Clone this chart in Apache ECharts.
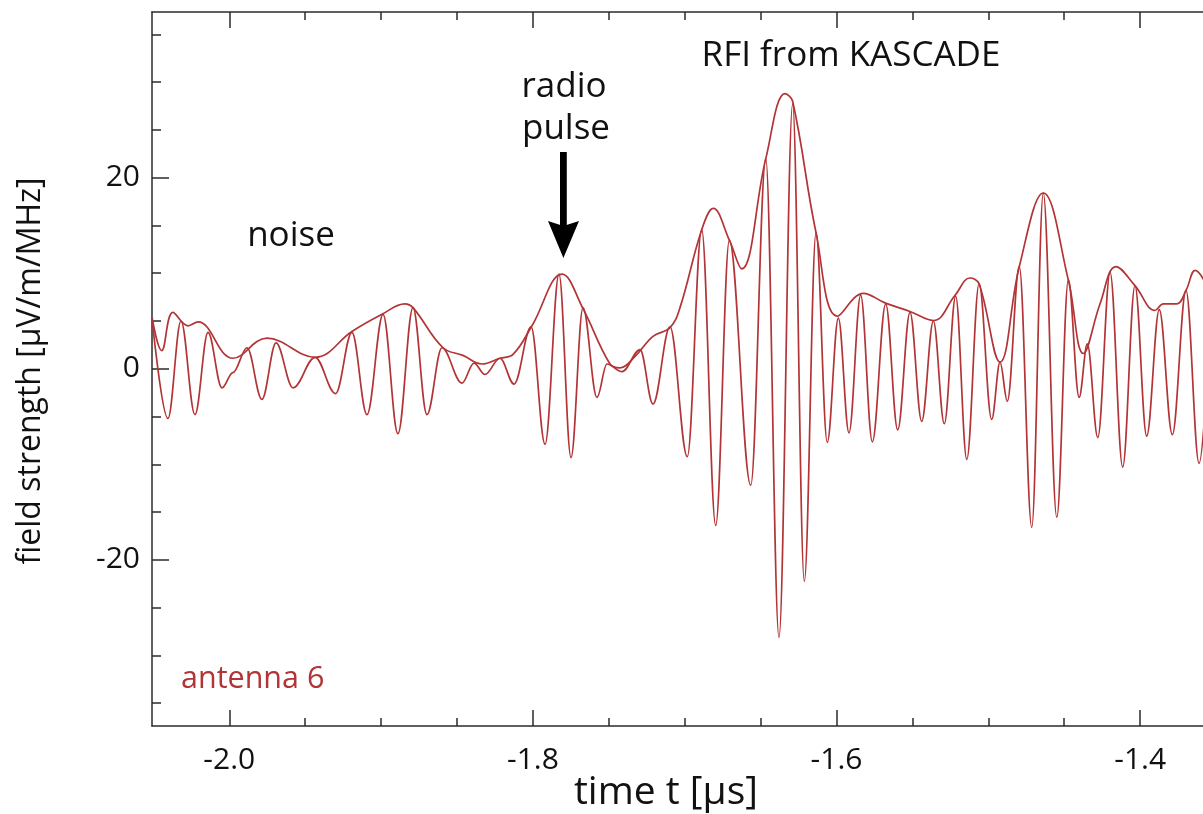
<!DOCTYPE html>
<html>
<head>
<meta charset="utf-8">
<title>antenna 6</title>
<script src="https://cdn.jsdelivr.net/npm/echarts@6/dist/echarts.min.js"></script>
<style>
    html, body { margin: 0; padding: 0; background: #ffffff; }
    #chart { width: 1203px; height: 814px; }
</style>
</head>
<body>
<div id="chart"></div>
<script>
// ================* FIELD STRENGTH, ANTENNA 6 *
// time t in microseconds, field strength in uV/m/MHz

// --- band-filtered signal: its peaks and troughs
const signalTime = [
    -2.0509, -2.0404, -2.0318, -2.0226, -2.0140, -2.0048, -1.9976, -1.9883, -1.9785, -1.9692,
    -1.9580, -1.9435, -1.9300, -1.9192, -1.9093, -1.8987, -1.8889, -1.8790, -1.8698, -1.8599,
    -1.8467, -1.8388, -1.8316, -1.8217, -1.8124, -1.8012, -1.7920, -1.7828, -1.7749, -1.7670,
    -1.7578, -1.7512, -1.7413, -1.7294, -1.7209, -1.7097, -1.6983, -1.6888, -1.6796, -1.6706,
    -1.6565, -1.6466, -1.6379, -1.6289, -1.6212, -1.6135, -1.6061, -1.5988, -1.5918, -1.5841,
    -1.5764, -1.5676, -1.5597, -1.5516, -1.5439, -1.5362, -1.5290, -1.5215, -1.5142, -1.5061,
    -1.4978, -1.4923, -1.4875, -1.4796, -1.4714, -1.4638, -1.4549, -1.4473, -1.4402, -1.4348,
    -1.4279, -1.4198, -1.4115, -1.4034, -1.3957, -1.3874, -1.3788, -1.3698, -1.3612, -1.3526
];
const signalValue = [
    5.3, -5.2, 5.0, -4.8, 3.8, -2.0, -0.4, 2.2, -3.2, 2.7,
    -2.0, 1.2, -2.6, 3.8, -4.8, 5.7, -6.8, 6.4, -4.8, 2.2,
    -1.5, 0.6, -0.6, 1.1, -1.6, 4.4, -7.9, 9.9, -9.3, 6.4,
    -3.0, 0.5, -0.3, 2.0, -3.7, 4.4, -9.2, 14.56, -16.4, 13.46,
    -12.2, 22.0, -28.1, 27.7, -22.25, 14.25, -7.7, 5.3, -6.7, 7.7,
    -7.65, 6.8, -6.4, 5.9, -5.5, 5.0, -5.75, 7.6, -9.5, 8.9,
    -5.3, 0.7, -3.4, 10.7, -16.6, 18.4, -15.55, 9.3, -3.0, 2.6,
    -7.2, 10.1, -10.3, 8.7, -7.05, 6.2, -6.9, 8.2, -9.9, 9.0
];

// --- envelope (Hilbert)
const envelopeTime = [
    -2.0509, -2.0445, -2.0371, -2.0272, -2.0206, -1.9976, -1.9752, -1.9435, -1.9192, -1.8994,
    -1.8843, -1.8790, -1.8592, -1.8461, -1.8335, -1.8217, -1.8131, -1.8006, -1.7808, -1.7670,
    -1.7492, -1.7426, -1.7327, -1.7209, -1.7097, -1.7031, -1.6888, -1.6812, -1.6706, -1.6625,
    -1.6466, -1.6339, -1.6289, -1.6135, -1.5993, -1.5823, -1.5681, -1.5516, -1.5362, -1.5219,
    -1.5121, -1.5061, -1.4923, -1.4796, -1.4638, -1.4473, -1.4374, -1.4264, -1.4159, -1.4034,
    -1.3902, -1.3847, -1.3759, -1.3698, -1.3638, -1.3526
];
const envelopeValue = [
    5.4, 1.9, 5.9, 4.5, 4.9, 1.1, 3.2, 1.2, 3.9, 5.7,
    6.8, 6.4, 2.2, 1.4, 0.5, 1.1, 1.5, 4.5, 9.9, 6.3,
    0.5, 0.1, 1.3, 3.4, 4.3, 6.4, 14.56, 16.8, 13.46, 10.45,
    22.0, 28.8, 28.0, 14.25, 5.5, 7.9, 6.9, 6.0, 5.05, 7.7,
    9.5, 8.9, 0.7, 10.7, 18.4, 9.3, 1.6, 6.8, 10.7, 8.7,
    6.1, 6.8, 6.8, 8.2, 10.3, 7.5
];

// --- ticks
const xMajorTicks = [-2.0, -1.8, -1.6, -1.4];
const xMinorTicks = [-1.95, -1.9, -1.85, -1.75, -1.7, -1.65, -1.55, -1.5, -1.45];
const yMajorTicks = [-20, 0, 20];
const yMinorTicks = [-35, -30, -25, -15, -10, -5, 5, 10, 15, 25, 30, 35];

const X_MIN = -2.0509, X_MAX = -1.3586;
const Y_MIN = -37.4, Y_MAX = 37.35;

const lineColor = '#b23436';
const axisColor = '#2b2b2b';
const fontName = '"Open Sans", "Noto Sans", sans-serif';

function tickAxis(position, ticks, tickLen, showLine, showLabel, min, max) {
    return {
        type: 'value',
        position: position,
        min: min,
        max: max,
        axisLine: {
            show: showLine,
            onZero: false,
            lineStyle: { color: axisColor, width: 1.5 }
        },
        axisTick: {
            show: true,
            inside: true,
            length: tickLen,
            customValues: ticks,
            lineStyle: { color: axisColor, width: 1.5 }
        },
        axisLabel: {
            show: showLabel,
            customValues: ticks,
            color: '#111111',
            fontSize: 30,
            fontFamily: fontName,
            margin: (position === 'left') ? 12 : 19,
            formatter: function (val) {
                return (position === 'left') ? String(Math.round(val)) : val.toFixed(1);
            }
        },
        splitLine: { show: false },
        minorTick: { show: false }
    };
}

function pairs(xs, ys) {
    return xs.map(function (x, i) { return [x, ys[i]]; });
}

function textItem(str, x, y, size, color, align, rotation) {
    return {
        type: 'text',
        x: x,
        y: y,
        rotation: rotation || 0,
        style: {
            text: str,
            fill: color,
            font: size + 'px ' + fontName,
            textAlign: align,
            textVerticalAlign: 'middle'
        }
    };
}

var chart = echarts.init(document.getElementById('chart'));

var option = {
    animation: false,
    backgroundColor: '#ffffff',
    grid: {
        left: 152,
        top: 12,
        width: 1051,
        height: 714,
        containLabel: false
    },
    xAxis: [
        tickAxis('bottom', xMajorTicks, 16, true, true, X_MIN, X_MAX),
        tickAxis('bottom', xMinorTicks, 8, false, false, X_MIN, X_MAX),
        tickAxis('top', xMajorTicks, 16, true, false, X_MIN, X_MAX),
        tickAxis('top', xMinorTicks, 8, false, false, X_MIN, X_MAX)
    ],
    yAxis: [
        tickAxis('left', yMajorTicks, 17, true, true, Y_MIN, Y_MAX),
        tickAxis('left', yMinorTicks, 9, false, false, Y_MIN, Y_MAX)
    ],
    series: [{
            name: 'field strength',
            type: 'line',
            xAxisIndex: 0,
            yAxisIndex: 0,
            data: pairs(signalTime, signalValue),
            showSymbol: false,
            smooth: 0.36,
            smoothMonotone: 'x',
            clip: true,
            lineStyle: { color: lineColor, width: 1.7 }
        },
        {
            name: 'envelope',
            type: 'line',
            xAxisIndex: 0,
            yAxisIndex: 0,
            data: pairs(envelopeTime, envelopeValue),
            showSymbol: false,
            smooth: 0.4,
            clip: true,
            lineStyle: { color: lineColor, width: 1.7 }
        }
    ],
    graphic: [
        textItem('RFI from KASCADE', 851, 56, 35, '#111111', 'center'),
        textItem('radio', 564, 87, 35, '#111111', 'center'),
        textItem('pulse', 566, 129, 35, '#111111', 'center'),
        textItem('noise', 291, 236, 35, '#111111', 'center'),
        textItem('antenna 6', 181, 679, 30.5, lineColor, 'left'),
        textItem('time t [\u03bcs]', 666, 793, 39, '#111111', 'center'),
        textItem('field strength [\u03bcV/m/MHz]', 31, 371, 32, '#111111', 'center', Math.PI / 2),
        // arrow pointing at the radio pulse
        {
            type: 'rect',
            shape: { x: 560, y: 152, width: 6.8, height: 74 },
            style: { fill: '#000000' }
        },
        {
            type: 'polygon',
            shape: { points: [[548, 221], [563.4, 226], [579, 221], [563.4, 258]] },
            style: { fill: '#000000' }
        }
    ]
};

chart.setOption(option);
</script>
</body>
</html>
